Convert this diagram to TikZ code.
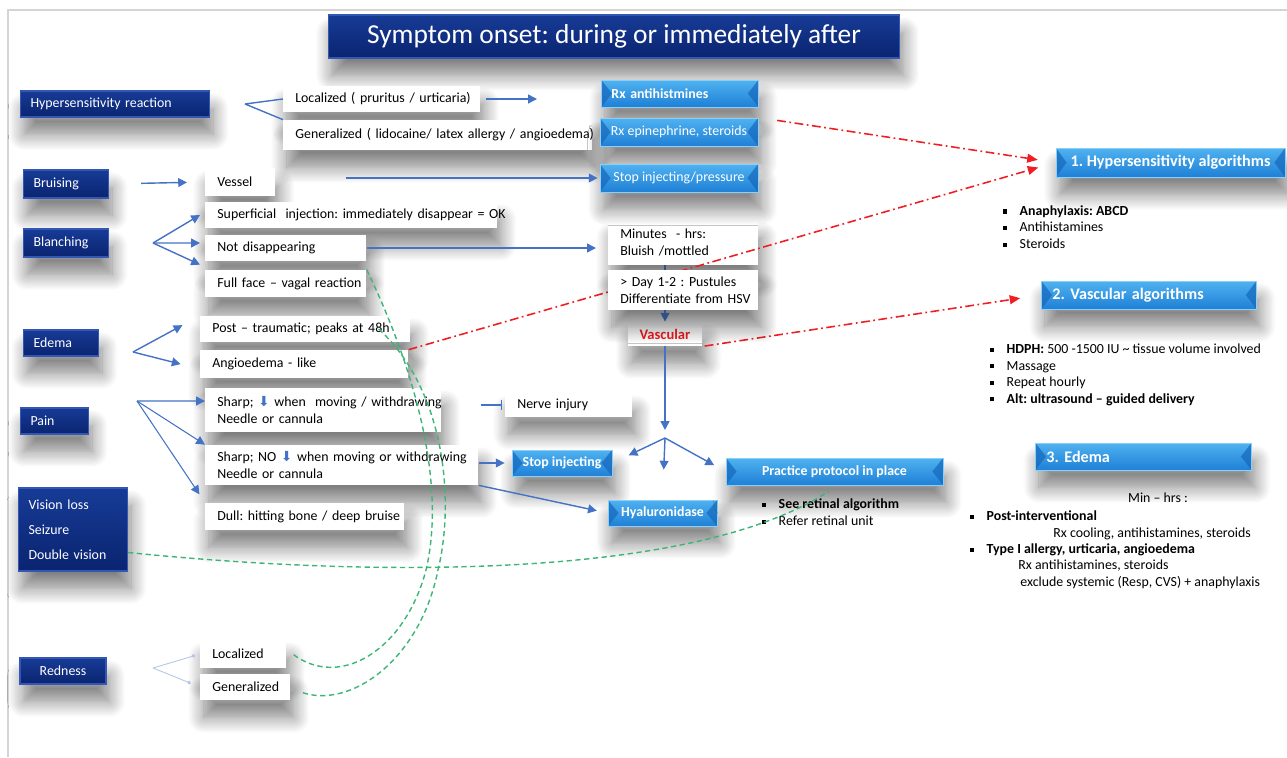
\documentclass[tikz,border=0pt]{standalone}
\usepackage{fontspec}
\setmainfont{Carlito}
\newfontfamily\arrowfont{DejaVu Sans}
\usetikzlibrary{arrows.meta,shadows.blur}
\frenchspacing

\definecolor{navytop}{HTML}{173B96}
\definecolor{navybot}{HTML}{0A2470}
\definecolor{navyedge}{HTML}{3457B5}
\definecolor{skytop}{HTML}{4FB2F0}
\definecolor{skybot}{HTML}{1F80D6}
\definecolor{skydark}{HTML}{1667BB}
\definecolor{skyedge}{HTML}{8ACFF7}
\definecolor{flowblue}{HTML}{4472C4}
\definecolor{alertred}{HTML}{F01E23}
\definecolor{linkgreen}{HTML}{3DB577}
\definecolor{framegray}{HTML}{D4D4D4}

\newcommand{\sqbul}{\raisebox{0.9pt}{\rule{2.3pt}{2.3pt}}}
\newcommand{\itm}{\sqbul\hspace{7pt}}
\newcommand{\downarr}{{\color{flowblue}\arrowfont ⬇}}

\tikzset{
  boxshadow/.style={blur shadow={shadow xshift=2pt,shadow yshift=-10pt,shadow opacity=50,shadow blur radius=9pt,shadow blur steps=14}},
  navybox/.style={boxshadow,top color=navytop,bottom color=navybot,draw=navyedge,line width=0.6pt,text=white,inner xsep=0.2cm,align=left},
  skybox/.style={boxshadow,top color=skytop,bottom color=skybot,draw=skyedge,line width=0.5pt,text=white,
    font=\fontsize{7.9}{9.6}\selectfont\bfseries,minimum height=0.54cm,
    path picture={
      \fill[skydark,opacity=0.7] (path picture bounding box.north west) -- ([xshift=6pt]path picture bounding box.west) -- (path picture bounding box.south west) -- cycle;
      \fill[skydark,opacity=0.7] (path picture bounding box.north east) -- ([xshift=-6pt]path picture bounding box.east) -- (path picture bounding box.south east) -- cycle;
    }},
  notebox/.style={boxshadow,fill=white,inner xsep=0.24cm,align=left},
  bulletlist/.style={inner sep=0pt,align=left,anchor=north west},
  edline/.style={inner sep=0pt,anchor=base west},
  flowarrow/.style={flowblue,line width=0.8pt,-{Triangle[width=5pt,length=5pt]}},
  alglink/.style={alertred,line width=0.9pt,dash pattern=on 5pt off 2pt on 1pt off 2pt,-{Triangle[width=5pt,length=6pt]}},
  linkcurve/.style={linkgreen,line width=0.8pt,dash pattern=on 3pt off 2pt},
}

\begin{document}
\begin{tikzpicture}[x=0.02cm,y=-0.02cm,font=\fontsize{7.9}{9.6}\selectfont]
\useasboundingbox (0,0) rectangle (1287,757);
\draw[framegray,line width=0.8pt] (8,757) -- (8,10) -- (1287,10);

% title
\node[navybox,minimum width=11.44cm,minimum height=0.86cm,font=\fontsize{15.6}{18}\selectfont] (title) at (614,36.5) {Symptom onset: during or immediately after};

% symptoms
\node[navybox,anchor=west,text width=3.38cm,minimum height=0.52cm] (hyprx) at (20,104) {Hypersensitivity reaction};
\node[navybox,anchor=west,text width=1.30cm,minimum height=0.56cm] (bruise) at (23,184) {Bruising};
\node[navybox,anchor=west,text width=1.30cm,minimum height=0.56cm] (blanch) at (23,243) {Blanching};
\node[navybox,anchor=west,text width=1.10cm,minimum height=0.52cm] (edema) at (23,343) {Edema};
\node[navybox,anchor=west,text width=0.96cm,minimum height=0.52cm] (pain) at (20,421) {Pain};
\node[navybox,anchor=west,text width=1.78cm,minimum height=1.66cm,font=\fontsize{7.9}{14.2}\selectfont] (vision) at (18,529.5) {Vision loss\\Seizure\\Double vision};
\node[navybox,minimum width=1.72cm,minimum height=0.52cm] (redness) at (63,671) {Redness};

% findings
\node[notebox,anchor=west,text width=3.46cm,minimum height=0.54cm] (loc) at (283,99) {\mbox{Localized ( pruritus / urticaria)}};
\node[notebox,anchor=west,text width=5.70cm,minimum height=0.60cm] (gen) at (283,135) {\mbox{Generalized ( lidocaine/ latex allergy / angioedema)}};
\node[notebox,anchor=west,text width=0.92cm,minimum height=0.56cm] (vessel) at (205,182) {Vessel};
\node[notebox,anchor=west,text width=5.36cm,minimum height=0.52cm] (superf) at (205,215) {\mbox{Superficial\ \ injection: immediately disappear = OK}};
\node[notebox,anchor=west,text width=2.74cm,minimum height=0.54cm] (notdis) at (205,248) {\mbox{Not disappearing}};
\node[notebox,anchor=west,text width=2.74cm,minimum height=0.54cm] (fullface) at (205,283.5) {\mbox{Full face -- vagal reaction}};
\node[notebox,anchor=west,text width=2.52cm,minimum height=0.90cm] (minutes) at (608,242.5) {\mbox{Minutes\ \ - hrs:}\\\mbox{Bluish /mottled}};
\node[notebox,minimum width=1.40cm,minimum height=0.48cm,text=alertred,font=\fontsize{8.3}{9.6}\selectfont\bfseries] (vasc) at (665,334) {Vascular};
\node[notebox,anchor=west,text width=3.72cm,minimum height=0.52cm] (post) at (200,329) {\mbox{Post -- traumatic; peaks at 48h}};
\node[notebox,anchor=west,text width=3.68cm,minimum height=0.56cm] (angio) at (200,364) {\mbox{Angioedema - like}};
\node[notebox,anchor=west,text width=4.24cm,minimum height=0.88cm] (sharp1) at (205,410) {\mbox{Sharp; \downarr\ when\ \ moving / withdrawing}\\\mbox{Needle or cannula}};
\node[notebox,anchor=west,text width=2.06cm,minimum height=0.48cm] (nerve) at (505,405) {\mbox{Nerve injury}};
\node[notebox,anchor=west,text width=4.98cm,minimum height=0.80cm] (sharp2) at (205,465) {\mbox{Sharp; NO \downarr\ when moving or withdrawing}\\\mbox{Needle or cannula}};
\node[notebox,anchor=west,text width=3.50cm,minimum height=0.54cm] (dull) at (205,516.5) {\mbox{Dull: hitting bone / deep bruise}};
\node[notebox,anchor=west,text width=1.24cm,minimum height=0.56cm] (locr) at (200,654) {Localized};
\node[notebox,anchor=west,text width=1.32cm,minimum height=0.52cm] (genr) at (200,687) {Generalized};

% treatment
\node[skybox,anchor=west,inner xsep=0.2cm,text width=2.74cm,align=left] (rxanti) at (601,93.5) {\mbox{Rx antihistmines}};
\node[skybox,minimum width=3.16cm,minimum height=0.56cm,font=\fontsize{7.9}{9.6}\selectfont] (rxepi) at (679,132) {Rx epinephrine, steroids};
\node[skybox,minimum width=3.16cm,minimum height=0.56cm,font=\fontsize{7.9}{9.6}\selectfont] (stopip) at (679,178) {Stop injecting/pressure};
\node[skybox,minimum width=2.00cm,minimum height=0.52cm] (stopinj) at (562,463) {Stop injecting};
\node[skybox,minimum width=2.18cm,minimum height=0.52cm] (hyal) at (662.5,513) {Hyaluronidase};
\node[skybox,minimum width=4.34cm] (pract) at (834.5,471.5) {Practice protocol in place};
\node[bulletlist,font=\fontsize{7.9}{9.6}\selectfont] (retlist) at (762,498.5) {\itm\textbf{See retinal algorithm}\\\itm Refer retinal unit};

% algorithms
\node[skybox,minimum width=4.58cm,minimum height=0.58cm,font=\fontsize{9.2}{11}\selectfont\bfseries] (hyp1) at (1170.5,162.5) {1. Hypersensitivity algorithms};
\node[skybox,anchor=west,inner xsep=0.22cm,text width=3.86cm,align=left,minimum height=0.56cm,font=\fontsize{9.2}{11}\selectfont\bfseries] (vas2) at (1041,295) {2. Vascular algorithms};
\node[skybox,anchor=west,inner xsep=0.22cm,text width=3.88cm,align=left,font=\fontsize{9.2}{11}\selectfont\bfseries] (ede3) at (1035,456.5) {3. Edema};
\node[bulletlist,font=\fontsize{7.9}{9.4}\selectfont] (hyplist) at (1003,205) {\itm\textbf{Anaphylaxis: ABCD}\\\itm Antihistamines\\\itm Steroids};
\node[bulletlist,font=\fontsize{7.9}{9.4}\selectfont] (vaslist) at (990,343.5) {\itm\textbf{HDPH:} 500 -1500 IU \textasciitilde{} tissue volume involved\\\itm Massage\\\itm Repeat hourly\\\itm\textbf{Alt: ultrasound -- guided delivery}};
\node[edline,anchor=base] (edmin) at (1158,502.5) {Min -- hrs :};
\node[edline] (edpost) at (970,520.5) {\itm\textbf{Post-interventional}};
\node[edline] (edcool) at (1053,537.5) {Rx cooling, antihistamines, steroids};
\node[edline] (edtype) at (970,553.5) {\itm\textbf{Type I allergy, urticaria, angioedema}};
\node[edline] (edrx) at (1018,569.5) {Rx antihistamines, steroids};
\node[edline] (edexcl) at (1020,586.5) {exclude systemic (Resp, CVS) + anaphylaxis};

% red links to the algorithms
\draw[alglink,shorten <=0.38cm,shorten >=0.36cm] (rxepi.north east) -- (hyp1.west);
\draw[alglink,shorten >=0.36cm] (angio.north east) -- (hyp1.west);
\draw[alglink,shorten <=0.04cm,shorten >=0.42cm] (vasc.south east) -- (vas2.west);

\node[notebox,anchor=west,text width=2.52cm,minimum height=0.80cm] (day) at (608,290) {\mbox{> Day 1-2 : Pustules}\\\mbox{Differentiate from HSV}};

% blue arrows
\coordinate (hypfork) at (245,104);
\draw[flowblue,line width=0.8pt] (hypfork) -- (loc.west) (hypfork) -- (gen.north west);
\draw[flowarrow,shorten <=0.1cm,shorten >=1.28cm] (loc.east) -- (loc.east -| rxanti.west);
\draw[flowarrow,shorten <=0.64cm,shorten >=0.36cm] (bruise.east) -- (vessel.west);
\draw[flowarrow,shorten <=1.4cm,shorten >=0.04cm] (vessel.east |- stopip.west) -- (stopip.west);
\coordinate (blfork) at (153,243);
\draw[flowarrow] (blfork) -- ([xshift=-0.1cm]superf.west);
\draw[flowarrow] (blfork) -- ([xshift=-0.1cm,yshift=0.1cm]notdis.west);
\draw[flowarrow] (blfork) -- ([xshift=-0.1cm,yshift=0.1cm]fullface.north west);
\draw[flowarrow,shorten >=0.24cm] (notdis.east) -- (notdis.east -| minutes.west);
\draw[flowblue!70!black,line width=0.8pt] (vasc.north |- minutes.south) -- (vasc.north |- day.north);
\draw[flowarrow,flowblue!70!black] (vasc.north |- day.south) -- (vasc.north);
\coordinate (vfork) at (665,438);
\draw[flowarrow,shorten >=0.16cm] (vasc.south) -- (vfork);
\draw[flowarrow,shorten >=0.36cm] (vfork) -- (stopinj.east);
\draw[flowarrow,shorten >=0.6cm] (vfork) -- (hyal.north);
\draw[flowarrow,shorten >=0.26cm] (vfork) -- (pract.west);
\coordinate (edfork) at (133,352);
\draw[flowarrow,shorten >=0.4cm] (edfork) -- (post.north west);
\draw[flowarrow,shorten >=0.4cm] (edfork) -- ([yshift=-0.1cm]angio.west);
\coordinate (pnfork) at (137,401);
\draw[flowarrow] (pnfork) -- ([yshift=0.18cm]sharp1.west);
\draw[flowarrow,line width=0.6pt] (pnfork) -- (sharp2.north west);
\draw[flowarrow,line width=0.6pt,shorten >=0.2cm] (pnfork) -- (dull.north west);
\draw[flowblue,line width=0.8pt,-{Bar[width=6pt]},shorten <=0.78cm,shorten >=0.06cm] (sharp1.east |- nerve.west) -- (nerve.west);
\draw[flowarrow,shorten >=0.14cm] (sharp2.east |- stopinj.west) -- (stopinj.west);
\draw[flowarrow,shorten >=0.22cm] (sharp2.south east) -- (hyal.west);
\coordinate (rdfork) at (153,668);
\draw[flowblue!40,line width=0.5pt,-{Circle[length=2pt]},shorten >=0.1cm] (rdfork) -- (locr.west);
\draw[flowblue!40,line width=0.5pt,-{Circle[length=2pt]},shorten >=0.2cm] (rdfork) -- (genr.west);

% green links
\draw[linkcurve] (fullface.north east) .. controls (420,380) and (445,490) .. (426,570) .. controls (405,650) and (340,690) .. ([xshift=0.12cm]locr.east);
\draw[linkcurve] ([xshift=-0.64cm]post.east) .. controls (445,390) and (455,500) .. (438,570) .. controls (420,660) and (350,710) .. ([xshift=0.2cm,yshift=-0.1cm]genr.east);
\draw[linkcurve] ([yshift=-0.46cm]vision.east) .. controls (400,580) and (700,575) .. ([xshift=-0.12cm,yshift=-0.12cm]pract.south);
\end{tikzpicture}
\end{document}
